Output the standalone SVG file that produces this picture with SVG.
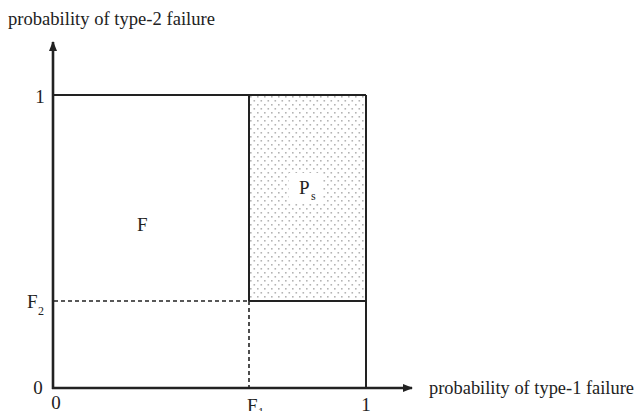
<svg xmlns="http://www.w3.org/2000/svg" width="638" height="411" viewBox="0 0 638 411">
<style>
text{fill:#222;font-size:19px}
.axis{stroke:#222;stroke-width:2.6;fill:none}
.box{stroke:#222;stroke-width:2;fill:none}
.dash{stroke:#222;stroke-width:1.6;stroke-dasharray:4 3;fill:none}
.sub{font-size:12px}
.mid{text-anchor:middle}
</style>
<defs>
<pattern id="dots" x="249" y="95" width="7" height="8" patternUnits="userSpaceOnUse">
<rect x="1" y="1" width="1.6" height="1.6" fill="#b4b4b4"/>
<rect x="4.5" y="5" width="1.6" height="1.6" fill="#b4b4b4"/>
</pattern>
<marker id="arr" viewBox="0 0 10 8" refX="9" refY="4" markerWidth="10" markerHeight="8" markerUnits="userSpaceOnUse" orient="auto">
<path d="M0,0 L10,4 L0,8 z" fill="#222"/>
</marker>
</defs>
<g font-family="'Liberation Serif', Tinos, 'Times New Roman', Times, serif">
<g id="ps-region">
<rect x="249" y="95" width="117" height="206" fill="url(#dots)"/>
<rect x="289" y="173" width="33" height="30" fill="#fff"/>
<text x="299" y="194">P</text><text x="311" y="200" class="sub">s</text>
</g>
<g id="f-region">
<text x="137" y="231">F</text>
</g>
<g id="connectors">
<line class="box" x1="53" y1="95" x2="366" y2="95"/>
<line class="box" x1="366" y1="95" x2="366" y2="388"/>
<line class="box" x1="249" y1="95" x2="249" y2="301"/>
<line class="box" x1="249" y1="301" x2="366" y2="301"/>
<line class="dash" x1="54" y1="301" x2="249" y2="301"/>
<line class="dash" x1="249" y1="301" x2="249" y2="388"/>
<line class="axis" x1="53" y1="389" x2="53" y2="42" marker-end="url(#arr)"/>
<line class="axis" x1="52" y1="388" x2="412" y2="388" marker-end="url(#arr)"/>
</g>
<g id="labels">
<text x="8" y="25" textLength="207" lengthAdjust="spacingAndGlyphs">probability of type-2 failure</text>
<text x="429" y="394" font-size="18.5" textLength="205" lengthAdjust="spacingAndGlyphs">probability of type-1 failure</text>
<text x="40" y="103" class="mid">1</text>
<text x="27" y="308">F</text><text x="38" y="315" class="sub">2</text>
<text x="38" y="394" class="mid">0</text>
<text x="56" y="409" class="mid">0</text>
<text x="247" y="412">F</text><text x="258" y="416" class="sub">1</text>
<text x="366" y="411" class="mid">1</text>
</g>
</g>
</svg>
